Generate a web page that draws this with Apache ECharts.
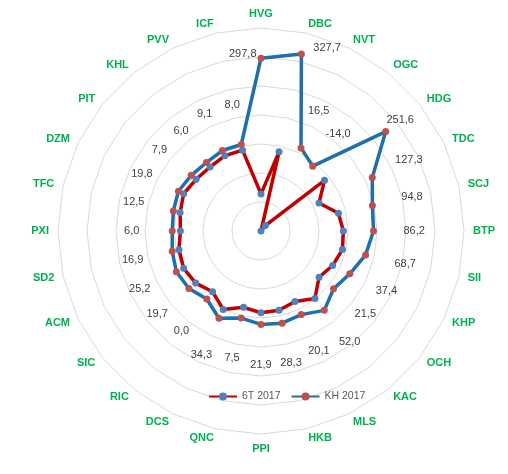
<!DOCTYPE html>
<html><head><meta charset="utf-8">
<script src="https://cdn.jsdelivr.net/npm/echarts@6/dist/echarts.min.js"></script>
<style>html,body{margin:0;padding:0;background:#fff;}#c{width:508px;height:474px;}</style>
</head><body><div id="c"></div>
<script>
// Categories in clockwise order starting at top
var categories = ['HVG','DBC','NVT','OGC','HDG','TDC','SCJ','BTP','SII','KHP','OCH','KAC','MLS','HKB','PPI','QNC','DCS','RIC','SIC','ACM','SD2','PXI','TFC','DZM','PIT','KHL','PVV','ICF'];
var seriesNames = ['6T 2017','KH 2017'];
var values6T = [64,140,0,12,140,111,137,142,144,137,128,149,135,140,141,135,150,134,144,148,145,139,143,148,143,141,144,143];
var valuesKH = [298,313,159,143,275,213,197,194,185,170,160,175,160,163,161,154,167,150,159,162,157,153,155,158,154,151,154,153];
var labelTexts = ['297,8','327,7','16,5','-14,0','251,6','127,3','94,8','86,2','68,7','37,4','21,5','52,0','20,1','28,3','21,9','7,5','34,3','0,0','19,7','25,2','16,9','6,0','12,5','19,8','7,9','6,0','9,1','8,0'];
var axisMax = 350, axisSplits = 7;

// ECharts radar runs counter-clockwise: reorder so it reads clockwise
function cw(arr){ return [arr[0]].concat(arr.slice(1).reverse()); }
var catsCW = cw(categories);
var t6CW = cw(values6T), khCW = cw(valuesKH), lblCW = cw(labelTexts);

// label anchor style: default outward gap, some labels moved manually
var gapDefault = 70;
var special = { HVG: {gap: 7, pos: 'left'}, DBC: {gap: 11, pos: 'right'}, HDG: {gap: 32, pos: 'inside'} };
function anchorVals(){
  return khCW.map(function(v,i){ var s = special[catsCW[i]]; return v + (s ? s.gap : gapDefault); });
}
function labelFor(pos){
  return function(p){
    var i = p.dimensionIndex; var s = special[catsCW[i]];
    var ps = s ? s.pos : 'inside';
    return ps === pos ? lblCW[i] : '';
  };
}
var anchors = anchorVals();
var lblStyle = {show:true, color:'#404040', fontSize:11, fontFamily:'Liberation Sans, Arial, sans-serif'};

var colors = { line6T:'#c00000', mark6T:'#4f81bd', lineKH:'#1e6fae', markKH:'#c0504d' };

var chart = echarts.init(document.getElementById('c'));
chart.setOption({
  animation:false,
  backgroundColor:'#fff',
  grid:{show:false, left:0, top:0, width:1, height:1},
  xAxis:{show:false, type:'category', data:[]},
  yAxis:{show:false, type:'value'},
  legend:{
    data: seriesNames, left:203, top:386, itemWidth:28, itemHeight:10, itemGap:10,
    textStyle:{color:'#595959', fontSize:10.5, fontFamily:'Liberation Sans, Arial, sans-serif'}
  },
  radar:{
    center:[261,231], radius:203, startAngle:90, shape:'polygon',
    splitNumber:axisSplits,
    indicator: catsCW.map(function(c){ return {name:c, min:0, max:axisMax}; }),
    axisName:{color:'#00b050', fontWeight:'bold', fontSize:11, fontFamily:'Liberation Sans, Arial, sans-serif'},
    nameGap:9,
    axisLine:{show:false}, axisTick:{show:false}, axisLabel:{show:false},
    splitLine:{lineStyle:{color:'#d9d9d9', width:1}},
    splitArea:{show:false}
  },
  series:[
    {type:'line', name:seriesNames[0], data:[], symbol:'circle', lineStyle:{color:colors.line6T, width:3.5}, itemStyle:{color:colors.mark6T}},
    {type:'line', name:seriesNames[1], data:[], symbol:'circle', lineStyle:{color:colors.lineKH, width:3.5}, itemStyle:{color:colors.markKH}},
    {type:'radar', z:3, data:[
      {name:seriesNames[0], value:t6CW, symbol:'circle', symbolSize:7,
       lineStyle:{color:colors.line6T, width:3.5}, itemStyle:{color:colors.mark6T}}
    ]},
    {type:'radar', z:4, data:[
      {name:seriesNames[1], value:khCW, symbol:'circle', symbolSize:7,
       lineStyle:{color:colors.lineKH, width:3.5}, itemStyle:{color:colors.markKH}}
    ]},
    {type:'radar', z:5, silent:true, data:[
      {name:'lbl-c', value:anchors, symbol:'circle', symbolSize:1, lineStyle:{opacity:0, width:0}, itemStyle:{color:'rgba(0,0,0,0)'},
       label:Object.assign({position:'inside', formatter:labelFor('inside')}, lblStyle)},
      {name:'lbl-l', value:anchors, symbol:'circle', symbolSize:1, lineStyle:{opacity:0, width:0}, itemStyle:{color:'rgba(0,0,0,0)'},
       label:Object.assign({position:'left', distance:4, formatter:labelFor('left')}, lblStyle)},
      {name:'lbl-r', value:anchors, symbol:'circle', symbolSize:1, lineStyle:{opacity:0, width:0}, itemStyle:{color:'rgba(0,0,0,0)'},
       label:Object.assign({position:'right', distance:10, formatter:labelFor('right')}, lblStyle)}
    ]}
  ]
});
</script>
</body></html>
